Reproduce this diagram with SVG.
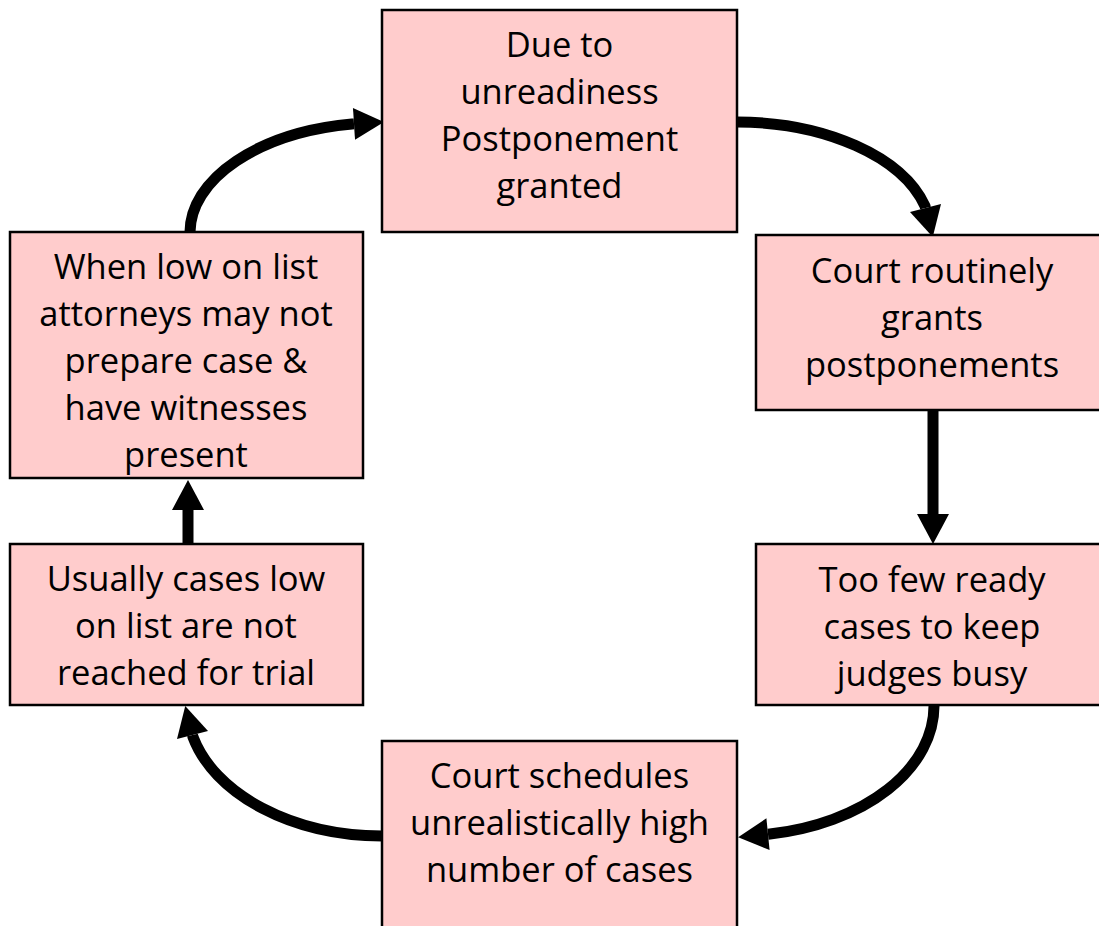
<svg xmlns="http://www.w3.org/2000/svg" width="1099" height="926" viewBox="0 0 1099 926">
  <style>
    .box { fill: #ffcccc; stroke: #000000; stroke-width: 2.5; }
    .label { font-family: "Open Sans", "Liberation Sans", sans-serif; font-size: 34.5px; fill: #000000; text-anchor: middle; }
    .link { fill: none; stroke: #000000; stroke-width: 11; }
  </style>
  <defs>
    <marker id="head" markerUnits="userSpaceOnUse" markerWidth="32" markerHeight="34" refX="0" refY="16" orient="auto" overflow="visible">
      <path d="M0,0 L30,16 L0,32 Z" fill="#000000"/>
    </marker>
  </defs>

  <rect width="1099" height="926" fill="#ffffff"/>

  <g id="connectors">
    <path class="link" d="M190,232 A192,110 0 0 1 352,124 l2,-0.13" marker-end="url(#head)"/>
    <path class="link" d="M737,122 A195,113 0 0 1 925,206 l0.5,2" marker-end="url(#head)"/>
    <path class="link" d="M933,410 L933,514" marker-end="url(#head)"/>
    <path class="link" d="M934,705 A197,130 0 0 1 770,834 l-2,0.2" marker-end="url(#head)"/>
    <path class="link" d="M382,836 A196,131 0 0 1 193,737 l-0.5,-2" marker-end="url(#head)"/>
    <path class="link" d="M188,544 L188,510" marker-end="url(#head)"/>
  </g>

  <g id="node-postponement">
    <rect class="box" x="382" y="10" width="355" height="222"/>
    <text class="label" x="559.5" y="57">Due to</text>
    <text class="label" x="559.5" y="104">unreadiness</text>
    <text class="label" x="559.5" y="151">Postponement</text>
    <text class="label" x="559.5" y="198">granted</text>
  </g>

  <g id="node-court-grants">
    <rect class="box" x="756" y="235" width="352" height="175"/>
    <text class="label" x="932" y="283">Court routinely</text>
    <text class="label" x="932" y="330">grants</text>
    <text class="label" x="932" y="377">postponements</text>
  </g>

  <g id="node-too-few">
    <rect class="box" x="756" y="544" width="352" height="161"/>
    <text class="label" x="932" y="592">Too few ready</text>
    <text class="label" x="932" y="639">cases to keep</text>
    <text class="label" x="932" y="686">judges busy</text>
  </g>

  <g id="node-schedules">
    <rect class="box" x="382" y="741" width="355" height="200"/>
    <text class="label" x="559.5" y="788">Court schedules</text>
    <text class="label" x="559.5" y="835">unrealistically high</text>
    <text class="label" x="559.5" y="882">number of cases</text>
  </g>

  <g id="node-not-reached">
    <rect class="box" x="10" y="544" width="353" height="161"/>
    <text class="label" x="186" y="591">Usually cases low</text>
    <text class="label" x="186" y="638">on list are not</text>
    <text class="label" x="186" y="685">reached for trial</text>
  </g>

  <g id="node-attorneys">
    <rect class="box" x="10" y="232" width="353" height="246"/>
    <text class="label" x="186" y="279">When low on list</text>
    <text class="label" x="186" y="326">attorneys may not</text>
    <text class="label" x="186" y="373">prepare case &amp;</text>
    <text class="label" x="186" y="420">have witnesses</text>
    <text class="label" x="186" y="467">present</text>
  </g>
</svg>
